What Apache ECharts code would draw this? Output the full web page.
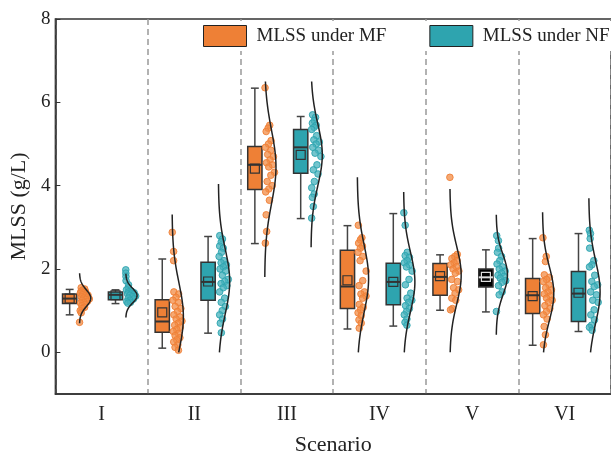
<!DOCTYPE html>
<html>
<head>
<meta charset="utf-8">
<script src="https://cdn.jsdelivr.net/npm/echarts@6/dist/echarts.min.js"></script>
<style>
  html, body { margin: 0; padding: 0; background: #fff; }
  #main { width: 611px; height: 461px; }
</style>
</head>
<body>
<div id="main"></div>
<script>
const scenarios = ['I', 'II', 'III', 'IV', 'V', 'VI'];

// box stats per scenario: [lower whisker, q1, median, q3, upper whisker, mean]
const mfBox = [
  [0.90, 1.17, 1.29, 1.40, 1.51, 1.29],
  [0.10, 0.48, 0.74, 1.26, 2.24, 0.96],
  [2.61, 3.91, 4.50, 4.94, 6.34, 4.41],
  [0.56, 1.05, 1.58, 2.45, 3.04, 1.73],
  [1.01, 1.37, 1.81, 2.13, 2.34, 1.83],
  [0.17, 0.93, 1.37, 1.77, 2.73, 1.35]
];
const nfBox = [
  [1.17, 1.26, 1.38, 1.45, 1.50, 1.37],
  [0.46, 1.25, 1.69, 2.16, 2.78, 1.70],
  [3.21, 4.30, 4.92, 5.35, 5.66, 4.74],
  [0.63, 1.14, 1.69, 2.14, 3.33, 1.69],
  [0.97, 1.57, 1.80, 2.00, 2.46, 1.81],
  [0.50, 0.74, 1.41, 1.94, 2.85, 1.43]
];

// raw samples
const mfPoints = [
  [1.55, 1.52, 1.5, 1.47, 1.45, 1.43, 1.42, 1.4, 1.38, 1.37, 1.35, 1.33, 1.32, 1.3, 1.28, 1.27, 1.25, 1.22, 1.2, 1.18, 1.15, 1.12, 1.08, 1.05, 1.0, 0.95, 0.72],
  [2.88, 2.42, 2.2, 1.45, 1.4, 1.32, 1.25, 1.2, 1.1, 1.05, 0.98, 0.9, 0.85, 0.8, 0.75, 0.7, 0.65, 0.6, 0.55, 0.5, 0.45, 0.4, 0.35, 0.3, 0.25, 0.18, 0.12, 0.05],
  [6.35, 5.45, 5.38, 5.3, 5.08, 5.0, 4.92, 4.85, 4.75, 4.7, 4.62, 4.55, 4.5, 4.45, 4.32, 4.25, 4.1, 4.0, 3.92, 3.85, 3.65, 3.3, 2.9, 2.62],
  [3.05, 2.75, 2.7, 2.62, 2.55, 2.5, 2.4, 2.3, 2.2, 1.95, 1.72, 1.6, 1.45, 1.4, 1.35, 1.3, 1.15, 1.08, 1.02, 0.95, 0.88, 0.78, 0.7, 0.58],
  [4.2, 2.35, 2.3, 2.25, 2.2, 2.15, 2.1, 2.05, 2.0, 1.95, 1.9, 1.75, 1.7, 1.55, 1.5, 1.42, 1.3, 1.25, 1.05, 1.02],
  [2.75, 2.3, 2.18, 1.86, 1.8, 1.75, 1.7, 1.62, 1.55, 1.5, 1.45, 1.4, 1.35, 1.3, 1.25, 1.2, 1.12, 1.05, 0.98, 0.9, 0.8, 0.62, 0.42, 0.18]
];
const nfPoints = [
  [1.98, 1.9, 1.82, 1.72, 1.62, 1.55, 1.5, 1.47, 1.45, 1.43, 1.42, 1.4, 1.38, 1.37, 1.35, 1.33, 1.3, 1.28, 1.25, 1.22, 1.2, 1.18],
  [2.8, 2.72, 2.65, 2.55, 2.5, 2.4, 2.3, 2.2, 2.15, 2.1, 2.05, 2.0, 1.95, 1.85, 1.75, 1.7, 1.65, 1.6, 1.55, 1.45, 1.3, 1.2, 1.1, 1.0, 0.9, 0.8, 0.7, 0.47],
  [5.7, 5.64, 5.56, 5.5, 5.45, 5.4, 5.35, 5.2, 5.1, 5.05, 5.0, 4.92, 4.85, 4.78, 4.7, 4.5, 4.38, 4.28, 4.1, 3.95, 3.8, 3.72, 3.5, 3.22],
  [3.35, 3.05, 2.4, 2.32, 2.28, 2.2, 2.15, 2.1, 2.05, 1.95, 1.75, 1.62, 1.42, 1.3, 1.25, 1.2, 1.12, 1.05, 0.98, 0.9, 0.8, 0.72, 0.65],
  [2.8, 2.68, 2.5, 2.4, 2.3, 2.2, 2.12, 2.05, 2.0, 1.95, 1.9, 1.85, 1.82, 1.78, 1.72, 1.68, 1.6, 1.45, 1.38, 0.98],
  [2.93, 2.85, 2.73, 2.5, 2.2, 2.1, 2.05, 1.85, 1.7, 1.62, 1.58, 1.45, 1.38, 1.25, 1.2, 1.02, 0.9, 0.78, 0.65, 0.6, 0.53]
];

// normal curve fit (mean, sd)
const mfCurveMu = [1.30, 0.85, 4.45, 1.77, 1.85, 1.41];
const mfCurveSd = [0.20, 0.82, 0.88, 0.81, 0.69, 0.65];
const nfCurveMu = [1.36, 1.70, 4.74, 1.69, 1.86, 1.45];
const nfCurveSd = [0.175, 0.78, 0.74, 0.72, 0.48, 0.75];
const curveMin = 0, curveMax = 6.5;

// styles
const FONT = 'Liberation Serif';
const ORANGE = '#EE8036';
const TEAL = '#2EA4AF';
const mfFill = [ORANGE, ORANGE, ORANGE, ORANGE, ORANGE, ORANGE];
const nfFill = [TEAL, TEAL, TEAL, TEAL, '#000000', TEAL];

function jitter(k) {
  return 0.08 + 0.84 * ((k * 0.61803 + 0.3) % 1);
}

function makeRender(box, pts, mus, sds, fills, boxOff, baseOff, dotFill, dotStroke) {
  return function (params, api) {
    const i = api.value(0);
    const band = api.size([1, 0])[0];
    const left = api.coord([i, 0])[0] - band / 2;
    const y = v => api.coord([i, v])[1];
    const s = box[i];
    const bx = left + band * boxOff;
    const bw = band * 0.154;
    const cap = band * 0.085;
    const amp = band * 0.122;
    const base = left + band * baseOff;
    const mu = mus[i], sd = sds[i];
    const g = v => Math.exp(-0.5 * Math.pow((v - mu) / sd, 2));
    const dark = fills[i] === '#000000';
    const inner = dark ? '#dddddd' : '#333';
    const children = [];

    // whiskers
    const wl = {stroke: '#444', lineWidth: 1.5};
    children.push({type: 'line', shape: {x1: bx, y1: y(s[0]), x2: bx, y2: y(s[1])}, style: wl});
    children.push({type: 'line', shape: {x1: bx, y1: y(s[3]), x2: bx, y2: y(s[4])}, style: wl});
    children.push({type: 'line', shape: {x1: bx - cap / 2, y1: y(s[0]), x2: bx + cap / 2, y2: y(s[0])}, style: wl});
    children.push({type: 'line', shape: {x1: bx - cap / 2, y1: y(s[4]), x2: bx + cap / 2, y2: y(s[4])}, style: wl});

    // box
    children.push({
      type: 'rect',
      shape: {x: bx - bw / 2, y: y(s[3]), width: bw, height: y(s[1]) - y(s[3])},
      style: {fill: fills[i], stroke: '#333', lineWidth: 1.5}
    });
    children.push({type: 'line', shape: {x1: bx - bw / 2, y1: y(s[2]), x2: bx + bw / 2, y2: y(s[2])},
      style: {stroke: inner, lineWidth: 2}});
    const m = 9;
    children.push({type: 'rect', shape: {x: bx - m / 2, y: y(s[5]) - m / 2, width: m, height: m},
      style: {fill: 'none', stroke: inner, lineWidth: 1.2}});

    // jittered points
    pts[i].forEach((v, k) => {
      children.push({
        type: 'circle',
        shape: {cx: base + amp * g(v) * jitter(k), cy: y(v), r: 3.3},
        style: {fill: dotFill, stroke: dotStroke, lineWidth: 1}
      });
    });

    // half violin (normal curve)
    const lo = Math.max(curveMin, mu - 3 * sd), hi = Math.min(curveMax, mu + 3 * sd);
    const line = [];
    for (let k = 0; k <= 80; k++) {
      const v = lo + (hi - lo) * k / 80;
      line.push([base + amp * g(v), y(v)]);
    }
    children.push({type: 'polyline', shape: {points: line}, style: {fill: 'none', stroke: '#222', lineWidth: 1.5}});

    return {type: 'group', children: children};
  };
}

const chart = echarts.init(document.getElementById('main'), null, {renderer: 'canvas'});

const option = {
  animation: false,
  grid: {left: 53, top: 19, width: 563, height: 376, show: true, borderColor: '#333', borderWidth: 1.5},
  legend: {
    orient: 'horizontal',
    data: ['MLSS under MF', 'MLSS under NF'],
    left: 198, top: 21,
    width: 420,
    padding: [4, 5],
    backgroundColor: '#fff',
    itemWidth: 43, itemHeight: 21, itemGap: 43,
    icon: 'rect',
    itemStyle: {borderColor: '#222', borderWidth: 1},
    textStyle: {fontFamily: FONT, fontSize: 19, color: '#222', padding: [0, 0, 0, 5]}
  },
  xAxis: {
    type: 'category',
    data: scenarios,
    boundaryGap: true,
    axisLine: {onZero: false, lineStyle: {color: '#333', width: 1.5}},
    axisTick: {inside: true, length: 5, lineStyle: {color: '#888'}},
    axisLabel: {fontFamily: FONT, fontSize: 20, color: '#222', margin: 11},
    splitLine: {show: true, interval: 0, lineStyle: {color: '#999', type: [6, 4], width: 1.5}},
    name: 'Scenario',
    nameLocation: 'middle',
    nameGap: 40,
    nameTextStyle: {fontFamily: FONT, fontSize: 22, color: '#222'}
  },
  yAxis: {
    type: 'value',
    min: -1, max: 8, interval: 1,
    axisLine: {show: true, lineStyle: {color: '#333', width: 1.5}},
    axisTick: {show: true, inside: true, length: 5, customValues: [0, 2, 4, 6, 8], lineStyle: {color: '#333'}},
    axisLabel: {customValues: [0, 2, 4, 6, 8], fontFamily: FONT, fontSize: 19, color: '#222', margin: 5},
    splitLine: {show: false},
    name: 'MLSS (g/L)',
    nameLocation: 'middle',
    nameGap: 22,
    nameTextStyle: {fontFamily: FONT, fontSize: 22, color: '#222'}
  },
  series: [
    {
      name: 'MLSS under MF',
      type: 'custom',
      clip: true,
      itemStyle: {color: ORANGE},
      renderItem: makeRender(mfBox, mfPoints, mfCurveMu, mfCurveSd, mfFill, 0.154, 0.26,
        'rgba(241,140,70,0.75)', 'rgba(240,128,54,0.9)'),
      data: scenarios.map((c, i) => [i].concat(mfBox[i]))
    },
    {
      name: 'MLSS under NF',
      type: 'custom',
      clip: true,
      itemStyle: {color: TEAL},
      renderItem: makeRender(nfBox, nfPoints, nfCurveMu, nfCurveSd, nfFill, 0.649, 0.76,
        'rgba(70,178,188,0.75)', 'rgba(46,164,175,0.9)'),
      data: scenarios.map((c, i) => [i].concat(nfBox[i]))
    }
  ]
};

chart.setOption(option);
</script>
</body>
</html>
